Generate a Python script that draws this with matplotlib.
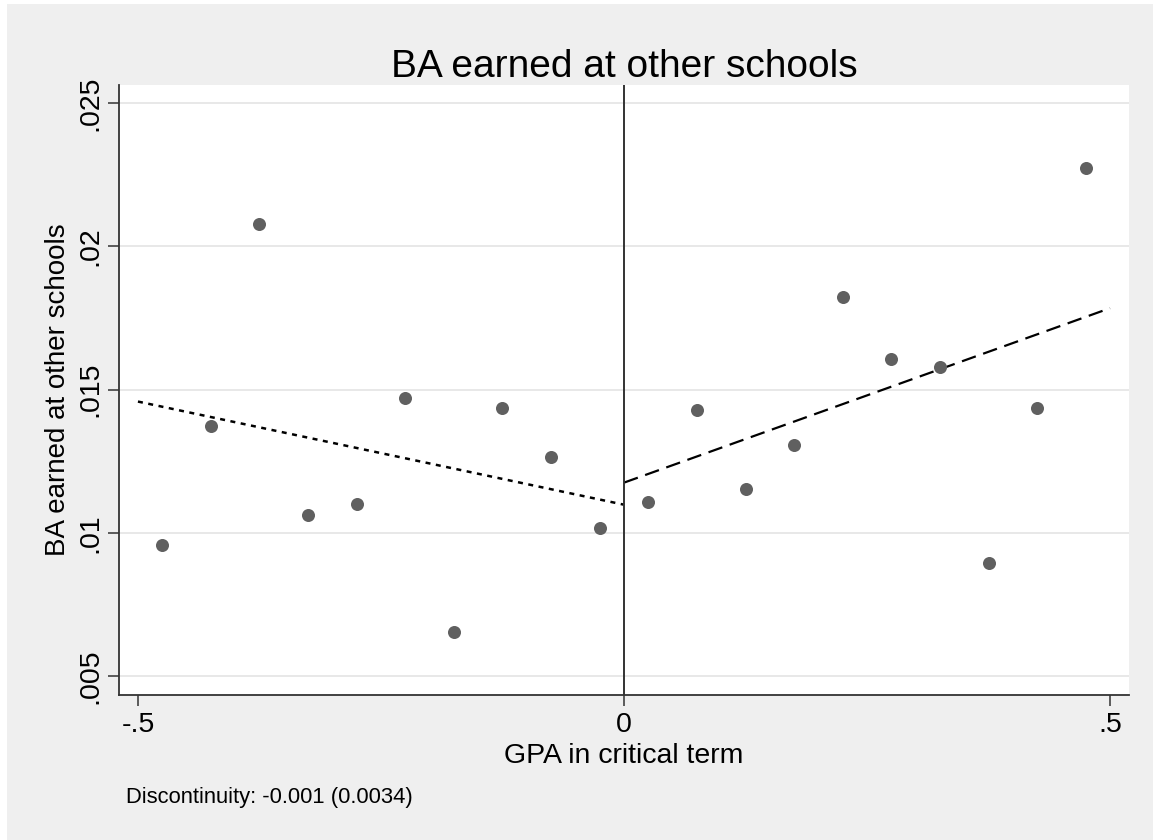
import numpy as np
import matplotlib
matplotlib.use('Agg')
import matplotlib.pyplot as plt
from matplotlib.patches import Rectangle

plt.rcParams['font.family'] = ['Liberation Sans', 'DejaVu Sans']

# binned means of the outcome by GPA distance from cutoff
gpa_bins = [-0.475, -0.425, -0.375, -0.325, -0.275, -0.225, -0.175, -0.125, -0.075, -0.025,
            0.025, 0.075, 0.125, 0.175, 0.225, 0.275, 0.325, 0.375, 0.425, 0.475]
ba_other = [0.00958, 0.01374, 0.02078, 0.01063, 0.01101, 0.01469, 0.00654, 0.01434, 0.01263, 0.01017,
            0.01108, 0.01430, 0.01154, 0.01308, 0.01823, 0.01606, 0.01577, 0.00895, 0.01437, 0.02273]

# fitted lines on each side of the cutoff
fit_left_x = [-0.5, 0.0]
fit_left_y = [0.01458, 0.01098]
fit_right_x = [0.0, 0.5]
fit_right_y = [0.01175, 0.01784]

yticks = [0.005, 0.01, 0.015, 0.02, 0.025]
ytick_labels = ['.005', '.01', '.015', '.02', '.025']
xticks = [-0.5, 0, 0.5]
xtick_labels = ['-.5', '0', '.5']

W, H = 1153, 840
fig = plt.figure(figsize=(W / 100, H / 100), dpi=100, facecolor='white')
# stata-ish grey graph region
fig.patches.append(Rectangle((7 / W, 0), 1 - 7 / W, 1 - 4 / H, transform=fig.transFigure,
                             facecolor='#efefef', edgecolor='none', zorder=-10))

ax = fig.add_axes([119 / W, 145 / H, 1010 / W, 610 / H])
ax.set_facecolor('white')

ax.scatter(gpa_bins, ba_other, s=88, color='#606060', zorder=3, linewidths=0)
ax.plot(fit_left_x, fit_left_y, color='black', lw=1.8, dashes=(2.0, 2.2), zorder=2)
ax.plot(fit_right_x, fit_right_y, color='black', lw=1.6, dashes=(6.6, 3.5), zorder=2)
ax.axvline(0, color='#333333', lw=1.4, zorder=2)

ax.set_xlim(-0.5195, 0.5195)
ax.set_ylim(0.004337, 0.02563)

ax.set_yticks(yticks)
ax.set_yticklabels(ytick_labels, rotation=90, va='center')
ax.set_xticks(xticks)
ax.set_xticklabels(xtick_labels)
ax.tick_params(axis='both', direction='out', length=8, width=1.1, color='#333333',
               labelsize=20.5)
ax.tick_params(axis='y', pad=3)
ax.tick_params(axis='x', pad=4)
ax.grid(True, axis='y', color='#e6e6e6', lw=1.3)
ax.set_axisbelow(True)

for side in ['top', 'right']:
    ax.spines[side].set_visible(False)
for side in ['left', 'bottom']:
    ax.spines[side].set_color('#333333')
    ax.spines[side].set_linewidth(1.3)

ax.set_title('BA earned at other schools', fontsize=28, pad=6)
ax.set_xlabel('GPA in critical term', fontsize=20.5, labelpad=4)
ax.set_ylabel('BA earned at other schools', fontsize=20, labelpad=5)

fig.text(126 / W, 1 - 803 / H, 'Discontinuity: -0.001 (0.0034)', fontsize=15.8,
         ha='left', va='baseline')

fig.savefig('out.png', dpi=100, facecolor=fig.get_facecolor())
